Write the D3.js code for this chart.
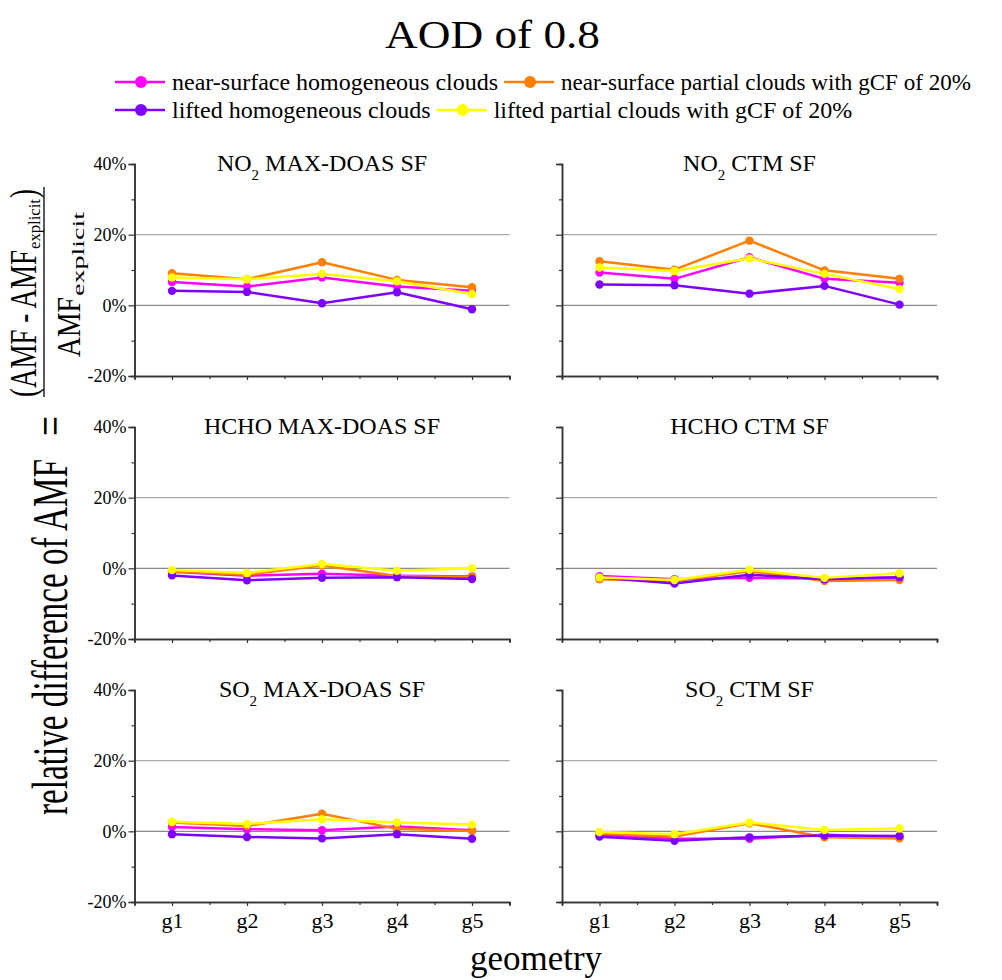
<!DOCTYPE html>
<html>
<head>
<meta charset="utf-8">
<script src="https://cdn.jsdelivr.net/npm/d3@7"></script>
<style>
  body { margin: 0; background: #fff; }
  svg { display: block; font-family: "Liberation Serif", "Times New Roman", serif; }
</style>
</head>
<body>
<svg id="chart" width="1002" height="980"></svg>
<script>
// categories / ticks
const geometries = ['g1', 'g2', 'g3', 'g4', 'g5'];
const yTicks = [-20, 0, 20, 40];
const yMinorTicks = [-10, 10, 30];
const gridValues = [0, 20];

// series (legend order)
const seriesNames = [
  'near-surface homogeneous clouds',
  'near-surface partial clouds with gCF of 20%',
  'lifted homogeneous clouds',
  'lifted partial clouds with gCF of 20%'
];
const seriesColors = ['#ff00ff', '#ff7f00', '#7f00ff', '#ffff00'];

// relative difference in %, one row per series (same order as seriesNames)
const no2MaxDoas = [
  [6.6, 5.3, 7.9, 5.3, 4.1],
  [9.1, 7.4, 12.2, 7.2, 5.1],
  [4.1, 3.8, 0.6, 3.7, -1.1],
  [7.9, 7.4, 8.9, 6.8, 3.2]
];
const no2Ctm = [
  [9.3, 7.5, 13.6, 7.5, 6.4],
  [12.5, 10.1, 18.3, 9.9, 7.5],
  [5.9, 5.7, 3.3, 5.5, 0.2],
  [10.7, 9.7, 13.3, 8.9, 4.6]
];
const hchoMaxDoas = [
  [-1.0, -2.1, -1.5, -2.1, -2.3],
  [-0.8, -1.8, 0.8, -2.2, -2.5],
  [-2.0, -3.4, -2.7, -2.5, -3.0],
  [-0.5, -1.3, 1.2, -0.7, 0.0]
];
const hchoCtm = [
  [-2.2, -3.1, -2.7, -2.9, -2.6],
  [-3.1, -3.6, -0.8, -3.6, -3.3],
  [-2.6, -4.3, -1.8, -3.1, -2.5],
  [-2.6, -3.3, -0.4, -2.7, -1.4]
];
const so2MaxDoas = [
  [1.2, 0.6, 0.3, 1.4, 0.3],
  [2.5, 1.5, 5.0, 0.7, 0.1],
  [-0.8, -1.6, -2.0, -0.8, -2.1],
  [2.7, 2.1, 3.4, 2.5, 1.9]
];
const so2Ctm = [
  [-1.0, -2.1, -2.1, -1.0, -1.7],
  [-0.6, -1.5, 2.3, -1.7, -2.0],
  [-1.5, -2.7, -1.7, -1.2, -1.3],
  [-0.2, -0.8, 2.5, 0.4, 0.8]
];

const panels = [
  { gas: 'NO', sub: '2', rest: ' MAX-DOAS SF', values: no2MaxDoas, row: 0, col: 0 },
  { gas: 'NO', sub: '2', rest: ' CTM SF', values: no2Ctm, row: 0, col: 1 },
  { gas: 'HCHO', sub: '', rest: ' MAX-DOAS SF', values: hchoMaxDoas, row: 1, col: 0 },
  { gas: 'HCHO', sub: '', rest: ' CTM SF', values: hchoCtm, row: 1, col: 1 },
  { gas: 'SO', sub: '2', rest: ' MAX-DOAS SF', values: so2MaxDoas, row: 2, col: 0 },
  { gas: 'SO', sub: '2', rest: ' CTM SF', values: so2Ctm, row: 2, col: 1 }
];

const svg = d3.select('#chart');
const colLeft = [134.5, 562];
const panelW = 375;
const rowTop = [164, 427, 690];
const panelH = 212;
const axisColor = '#333';

svg.append('rect').attr('width', 1002).attr('height', 980).attr('fill', '#fff');

// title
svg.append('text')
  .attr('x', 385).attr('y', 48)
  .attr('textLength', 215)
  .attr('lengthAdjust', 'spacingAndGlyphs')
  .style('font-size', '41px')
  .text('AOD of 0.8');

// legend (text widths squeezed to fit the original line)
const legendRows = [[0, 1], [2, 3]];
const legendMaxWidth = [327, 410, 262, 365];
legendRows.forEach((row, ri) => {
  let x = 115;
  const cy = 82 + ri * 28;
  row.forEach(i => {
    const item = svg.append('g').attr('class', 'legend-item');
    item.append('line')
      .attr('x1', x).attr('x2', x + 50)
      .attr('y1', cy).attr('y2', cy)
      .attr('stroke', seriesColors[i]).attr('stroke-width', 2.5);
    item.append('circle')
      .attr('cx', x + 26).attr('cy', cy).attr('r', 6)
      .attr('fill', seriesColors[i]);
    const t = item.append('text')
      .attr('x', x + 57).attr('y', cy + 8)
      .style('font-size', '24px')
      .text(seriesNames[i]);
    let w = t.node().getComputedTextLength();
    if (w > legendMaxWidth[i]) {
      w = legendMaxWidth[i];
      t.attr('textLength', w).attr('lengthAdjust', 'spacingAndGlyphs');
    }
    x = x + 57 + w + 6;
  });
});

panels.forEach(p => {
  const x0 = colLeft[p.col];
  const y0 = rowTop[p.row];
  const g = svg.append('g').attr('transform', `translate(${x0},${y0})`);

  const x = d3.scaleLinear().domain([0.5, 5.5]).range([0, panelW]);
  const y = d3.scaleLinear().domain([-20, 40]).range([panelH, 0]);

  // grid lines
  g.selectAll('.grid')
    .data(gridValues)
    .join('line')
    .attr('class', 'grid')
    .attr('x1', 0).attr('x2', panelW)
    .attr('y1', d => y(d)).attr('y2', d => y(d))
    .attr('stroke', d => d === 0 ? '#8a8a8a' : '#aaaaaa')
    .attr('stroke-width', 1.3);

  // y axis
  const yAxis = d3.axisLeft(y)
    .tickValues(yTicks)
    .tickSize(6)
    .tickPadding(2)
    .tickFormat(d => p.col === 0 ? d + '%' : '');
  const ya = g.append('g').attr('class', 'axis axis-y').call(yAxis);
  const yMinor = d3.axisLeft(y).tickValues(yMinorTicks).tickSize(3).tickFormat('');
  const ym = g.append('g').call(yMinor);

  // x axis
  const xAxis = d3.axisBottom(x)
    .tickValues([1, 2, 3, 4, 5])
    .tickSize(4)
    .tickPadding(6)
    .tickFormat((d, i) => p.row === 2 ? geometries[i] : '');
  const xa = g.append('g').attr('transform', `translate(0,${panelH})`).call(xAxis);
  const xMinor = d3.axisBottom(x).tickValues([1.5, 2.5, 3.5, 4.5, 5.5]).tickSize(3).tickFormat('');
  const xm = g.append('g').attr('transform', `translate(0,${panelH})`).call(xMinor);

  [ya, ym, xa, xm].forEach(a => {
    a.select('.domain').attr('stroke', axisColor).attr('stroke-width', 1.5);
    a.selectAll('.tick line').attr('stroke', axisColor).attr('stroke-width', 1.2);
    a.selectAll('.tick text')
      .attr('fill', '#000')
      .style('font-family', '"Liberation Serif", "Times New Roman", serif');
  });
  ya.selectAll('.tick text').style('font-size', '18px');
  xa.selectAll('.tick text').style('font-size', '22px');

  // panel title
  const title = g.append('text')
    .attr('x', panelW / 2).attr('y', 7)
    .attr('text-anchor', 'middle')
    .style('font-size', '24px');
  title.append('tspan').text(p.gas);
  if (p.sub) {
    title.append('tspan').attr('dy', 9).style('font-size', '15px').text(p.sub);
    title.append('tspan').attr('dy', -9).text(p.rest);
  } else {
    title.append('tspan').text(p.rest);
  }

  // series
  const line = d3.line().x((d, i) => x(i + 1)).y(d => y(d));
  p.values.forEach((vals, si) => {
    g.append('path')
      .datum(vals)
      .attr('fill', 'none')
      .attr('stroke', seriesColors[si])
      .attr('stroke-width', 2.5)
      .attr('stroke-linejoin', 'round')
      .attr('d', line);
    g.selectAll(null)
      .data(vals)
      .join('circle')
      .attr('cx', (d, i) => x(i + 1))
      .attr('cy', d => y(d))
      .attr('r', 4.2)
      .attr('fill', seriesColors[si]);
  });
});

// x axis title
svg.append('text')
  .attr('x', 536).attr('y', 970)
  .attr('text-anchor', 'middle')
  .style('font-size', '35px')
  .text('geometry');

// y axis title, drawn rotated with narrow glyphs like the original
function vText(x, y, size, len, str) {
  return svg.append('text')
    .attr('transform', `translate(${x},${y}) rotate(-90)`)
    .attr('textLength', len)
    .attr('lengthAdjust', 'spacingAndGlyphs')
    .style('font-size', size + 'px')
    .text(str);
}

vText(67, 815, 51, 356, 'relative difference of AMF');
vText(67, 436, 51, 20, '=');

// fraction
vText(36, 397, 37, 147, '(AMF - AMF');
vText(40, 249, 16, 50, 'explicit');
vText(36, 198, 37, 9, ')');

svg.append('line')
  .attr('x1', 44).attr('x2', 44)
  .attr('y1', 187).attr('y2', 397)
  .attr('stroke', '#000').attr('stroke-width', 1.3);

vText(80, 357, 33, 60, 'AMF');
vText(84, 296, 16, 84, 'explicit');
</script>
</body>
</html>
